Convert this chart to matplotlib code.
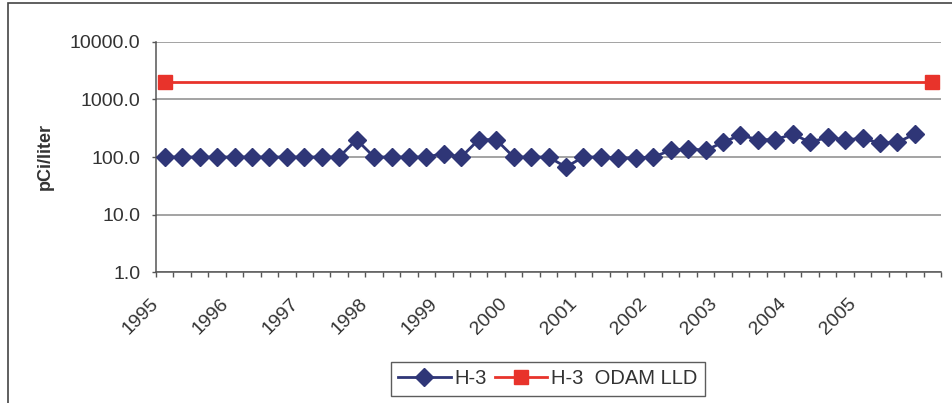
import matplotlib
matplotlib.use("Agg")
import matplotlib.pyplot as plt
import matplotlib.transforms as mtransforms
from matplotlib.ticker import FixedLocator, NullFormatter, FixedFormatter
import numpy as np

plt.rcParams['font.family'] = ['Liberation Sans', 'DejaVu Sans']

# ---- data ----
year_labels = ['1995', '1996', '1997', '1998', '1999', '2000',
               '2001', '2002', '2003', '2004', '2005']
quarters_per_year = 4
n_categories = 45  # quarterly categories 1995 Q1 .. 2006 Q1

h3_values = [100, 100, 100, 100, 100, 100, 100, 100, 100, 100, 100,
             200, 100, 100, 100, 100, 115, 100, 200, 200, 100, 100,
             100, 67, 100, 100, 95, 97, 100, 130, 140, 130, 180,
             240, 200, 200, 250, 180, 220, 200, 210, 175, 180, 250]
lld_categories = [0, 44]
lld_values = [2000, 2000]

# ---- figure ----
fig = plt.figure(figsize=(9.52, 4.03), dpi=100)
ax = fig.add_axes([156/952, 1 - 272.3/403, (941 - 156)/952, (272.3 - 41.7)/403])

navy = '#2f3677'
red = '#e8332b'

x_h3 = np.arange(len(h3_values))
l1, = ax.plot(x_h3, h3_values, color=navy, lw=2, marker='D', markersize=9.5,
              markerfacecolor=navy, markeredgecolor=navy, label='H-3', zorder=4)
l2, = ax.plot(lld_categories, lld_values, color=red, lw=2, marker='s', markersize=10,
              markerfacecolor=red, markeredgecolor=red, label='H-3  ODAM LLD', zorder=3)

ax.set_yscale('log')
ax.set_ylim(1, 10000)
ax.set_xlim(-0.5, n_categories - 0.5)

ax.yaxis.set_major_locator(FixedLocator([1, 10, 100, 1000, 10000]))
ax.yaxis.set_major_formatter(FixedFormatter(['1.0', '10.0', '100.0', '1000.0', '10000.0']))
ax.yaxis.set_minor_locator(FixedLocator([]))
ax.yaxis.grid(True, which='major', color='#8a8a8a', lw=1.1)
ax.set_axisbelow(True)

label_pos = [i * quarters_per_year - 0.5 for i in range(len(year_labels))]
ax.xaxis.set_major_locator(FixedLocator(label_pos))
ax.xaxis.set_major_formatter(FixedFormatter(year_labels))
ax.xaxis.set_minor_locator(FixedLocator([k - 0.5 for k in range(n_categories + 1)]))
ax.xaxis.set_minor_formatter(NullFormatter())

ax.tick_params(axis='x', which='both', direction='out', length=3.6, width=1, color='#555555')
ax.tick_params(axis='x', which='major', pad=13, labelsize=14, labelcolor='#333333')
ax.tick_params(axis='y', which='major', direction='out', length=3.2, width=1, color='#555555',
               pad=8, labelsize=14, labelcolor='#333333')
offset = mtransforms.ScaledTranslation(-6/100, 0, fig.dpi_scale_trans)
for lab in ax.get_xticklabels():
    lab.set_rotation(45)
    lab.set_ha('right')
    lab.set_va('top')
    lab.set_rotation_mode('anchor')
    lab.set_transform(lab.get_transform() + offset)

for s in ['top', 'right']:
    ax.spines[s].set_visible(False)
for s in ['left', 'bottom']:
    ax.spines[s].set_color('#555555')
    ax.spines[s].set_linewidth(1.1)

ax.set_ylabel('pCi/liter', fontsize=13, fontweight='bold', color='#333333')
ax.yaxis.set_label_coords((54 - 156) / 785, 0.504)

leg = fig.legend(handles=[l1, l2], loc='center', bbox_to_anchor=(548/952, 1 - 379/403),
                 ncol=2, fontsize=14.5, frameon=True, fancybox=False, shadow=False,
                 edgecolor='#333333', handlelength=2.6, columnspacing=0.4,
                 handletextpad=0.2, borderpad=0.35)
leg.get_frame().set_linewidth(1.0)
for t in leg.get_texts():
    t.set_color('#333333')

# outer chart border
border = plt.Rectangle((8/952, -0.01), 1.0, 1 - 3/403 + 0.01, transform=fig.transFigure,
                       fill=False, edgecolor='#444444', lw=1.2)
fig.patches.append(border)

fig.savefig('out.png', dpi=100)
